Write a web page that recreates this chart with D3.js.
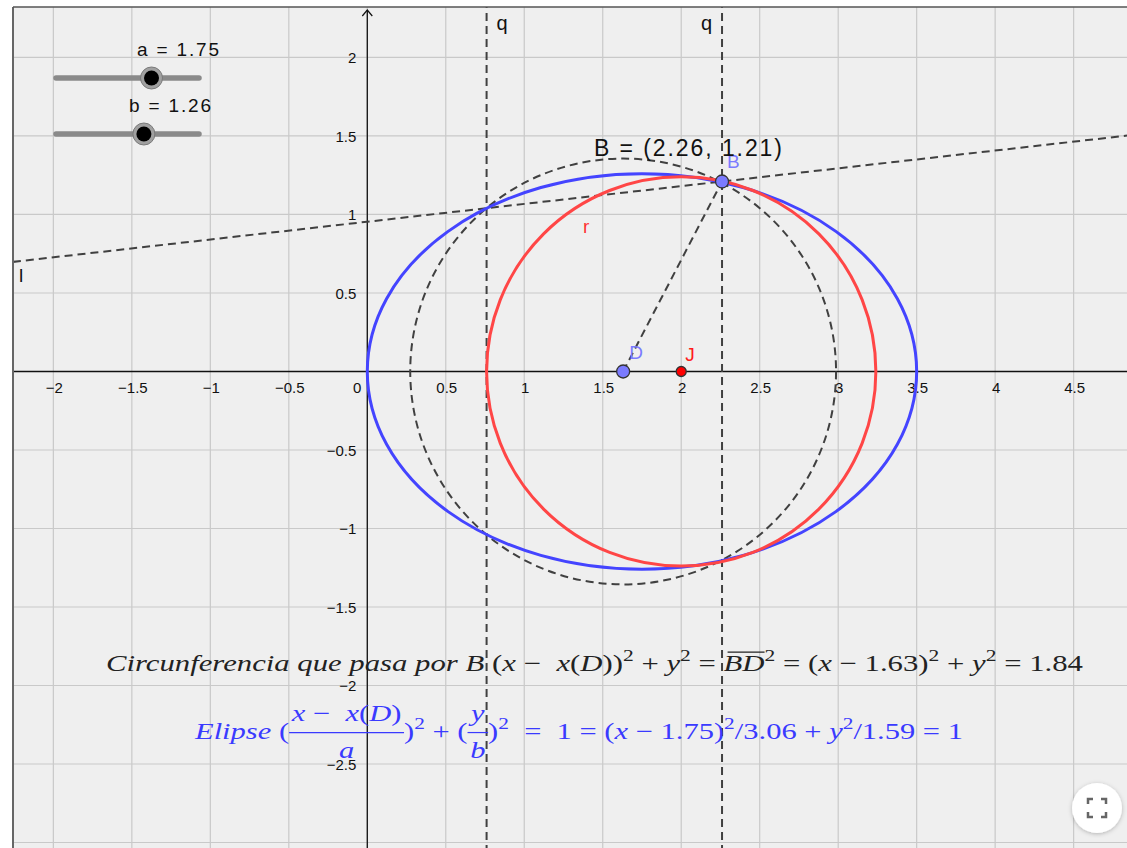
<!DOCTYPE html>
<html>
<head>
<meta charset="utf-8">
<script src="https://cdn.jsdelivr.net/npm/d3@7"></script>
<style>
  body { margin: 0; background: #fff; }
  svg { display: block; }
  text { font-family: "Liberation Sans", Arial, sans-serif; }
</style>
</head>
<body>
<div id="chart-area"></div>
<script>
// ---- data ----
var xTicks = [-2, -1.5, -1, -0.5, 0.5, 1, 1.5, 2, 2.5, 3, 3.5, 4, 4.5];
var yTicks = [2, 1.5, 1, 0.5, -0.5, -1, -1.5, -2, -2.5];
var xGrid = [-2, -1.5, -1, -0.5, 0, 0.5, 1, 1.5, 2, 2.5, 3, 3.5, 4, 4.5];
var yGrid = [2, 1.5, 1, 0.5, 0, -0.5, -1, -1.5, -2, -2.5, -3];

var sliderNames = ['a', 'b'];
var sliderValues = [1.75, 1.26];
var sliderMin = [0, 0];
var sliderMax = [2.62, 2.05];

var pointNames = ['B', 'D', 'J'];
var pointX = [2.26, 1.63, 2];
var pointY = [1.21, 0, 0];

var redRadius = 1.24;      // circle r, centre J
var circleR2 = 1.84;       // dashed circle through B, centre D
var qX = [0.76, 2.26];     // vertical lines q
var lPoints = [[0.76, 1.04], [2.26, 1.21]]; // line l

var def = { width: 1127, height: 848, left: 13, top: 7 };
var fmt = d3.format('.2f');

var svg = d3.select('#chart-area').append('svg')
    .attr('width', def.width)
    .attr('height', def.height);

var x = d3.scaleLinear().domain([-2.34, 4.84]).range([0, def.width]);
var y = d3.scaleLinear().domain([2.366, -3.035]).range([0, def.height]);

var defs = svg.append('defs');
defs.append('clipPath').attr('id', 'plot')
    .append('rect')
    .attr('x', def.left).attr('y', def.top)
    .attr('width', def.width - def.left).attr('height', def.height - def.top);

svg.append('rect')
    .attr('x', def.left).attr('y', def.top)
    .attr('width', def.width - def.left).attr('height', def.height - def.top)
    .attr('fill', '#efefef');

var g = svg.append('g').attr('clip-path', 'url(#plot)');

// grid
g.selectAll('.gx').data(xGrid).enter().append('line')
    .attr('x1', d => x(d)).attr('x2', d => x(d))
    .attr('y1', 0).attr('y2', def.height)
    .attr('stroke', '#c9c9c9').attr('stroke-width', 1.2);
g.selectAll('.gy').data(yGrid).enter().append('line')
    .attr('y1', d => y(d)).attr('y2', d => y(d))
    .attr('x1', 0).attr('x2', def.width)
    .attr('stroke', '#c9c9c9').attr('stroke-width', 1.2);

// axes
g.append('line').attr('x1', 0).attr('x2', def.width)
    .attr('y1', y(0)).attr('y2', y(0)).attr('stroke', '#111').attr('stroke-width', 1.3);
g.append('line').attr('x1', x(0)).attr('x2', x(0))
    .attr('y1', def.top + 3).attr('y2', def.height).attr('stroke', '#111').attr('stroke-width', 1.3);
g.append('path')
    .attr('d', 'M' + (x(0) - 5) + ',' + (def.top + 9) + 'L' + x(0) + ',' + (def.top + 3) + 'L' + (x(0) + 5) + ',' + (def.top + 9))
    .attr('fill', 'none').attr('stroke', '#111').attr('stroke-width', 1.2);

var minus = d => String(d).replace('-', '\u2212');
g.selectAll('.xl').data(xTicks).enter().append('text')
    .attr('x', d => x(d) + 1).attr('y', y(0) + 22)
    .attr('text-anchor', 'middle').attr('font-size', 15).attr('fill', '#111')
    .text(minus);
g.append('text').attr('x', x(0) - 10).attr('y', y(0) + 22)
    .attr('text-anchor', 'middle').attr('font-size', 15).attr('fill', '#111').text('0');
g.selectAll('.yl').data(yTicks).enter().append('text')
    .attr('x', x(0) - 11).attr('y', d => y(d) + 6)
    .attr('text-anchor', 'end').attr('font-size', 15).attr('fill', '#111')
    .text(minus);

var dash = { stroke: '#404040', w: 2, arr: '8,5' };

// vertical lines q
g.selectAll('.q').data(qX).enter().append('line')
    .attr('x1', d => x(d)).attr('x2', d => x(d))
    .attr('y1', 0).attr('y2', def.height)
    .attr('stroke', dash.stroke).attr('stroke-width', dash.w).attr('stroke-dasharray', dash.arr);

// line l
var slope = (lPoints[1][1] - lPoints[0][1]) / (lPoints[1][0] - lPoints[0][0]);
var lAt = xv => lPoints[0][1] + slope * (xv - lPoints[0][0]);
var xd = x.domain();
g.append('line')
    .attr('x1', x(xd[0])).attr('y1', y(lAt(xd[0])))
    .attr('x2', x(xd[1])).attr('y2', y(lAt(xd[1])))
    .attr('stroke', dash.stroke).attr('stroke-width', dash.w).attr('stroke-dasharray', dash.arr);

// dashed circle centre D through B
var rDash = Math.sqrt(circleR2);
g.append('circle')
    .attr('cx', x(pointX[1])).attr('cy', y(0))
    .attr('r', x(pointX[1] + rDash) - x(pointX[1]))
    .attr('fill', 'none').attr('stroke', dash.stroke).attr('stroke-width', dash.w).attr('stroke-dasharray', dash.arr);

// segment DB
g.append('line')
    .attr('x1', x(pointX[1])).attr('y1', y(pointY[1]))
    .attr('x2', x(pointX[0])).attr('y2', y(pointY[0]))
    .attr('stroke', dash.stroke).attr('stroke-width', dash.w).attr('stroke-dasharray', dash.arr);

// ellipse (centre a, 0), semi axes a, b
var aV = sliderValues[0], bV = sliderValues[1];
g.append('ellipse')
    .attr('cx', x(aV)).attr('cy', y(0))
    .attr('rx', x(aV + aV) - x(aV)).attr('ry', y(0) - y(bV))
    .attr('fill', 'none').attr('stroke', '#4444ff').attr('stroke-width', 3);

// red circle r centre J
g.append('circle')
    .attr('cx', x(pointX[2])).attr('cy', y(pointY[2]))
    .attr('r', x(pointX[2] + redRadius) - x(pointX[2]))
    .attr('fill', 'none').attr('stroke', '#ff4646').attr('stroke-width', 3);

// points
var pFill = ['#7b7bff', '#7b7bff', '#ff0000'];
var pR = [6.5, 6.5, 5];
g.selectAll('.pt').data(pointNames).enter().append('circle')
    .attr('cx', (d, i) => x(pointX[i])).attr('cy', (d, i) => y(pointY[i]))
    .attr('r', (d, i) => pR[i])
    .attr('fill', (d, i) => pFill[i]).attr('stroke', '#333').attr('stroke-width', 1.3);

// labels
var lab = (t, px, py, col, fs, anchor) => g.append('text')
    .attr('x', px).attr('y', py).attr('fill', col).attr('font-size', fs)
    .attr('text-anchor', anchor || 'start').text(t);
lab('B', x(pointX[0]) + 5, y(pointY[0]) - 14, '#7b7bff', 19);
lab('D', x(pointX[1]) + 6, y(pointY[1]) - 12, '#7b7bff', 19);
lab('J', x(pointX[2]) + 4, y(pointY[2]) - 10, '#ff1a1a', 19);
lab('r', x(1.375), 233, '#ff3333', 19);
lab('q', x(qX[0]) + 10, 30, '#111', 20);
lab('q', x(qX[1]) - 10, 30, '#111', 20, 'end');
lab('l', 19, 282, '#111', 19);

g.append('text')
    .attr('x', 594).attr('y', 156).attr('font-size', 23).attr('fill', '#111')
    .attr('textLength', 188).attr('lengthAdjust', 'spacing')
    .text('B = (' + fmt(pointX[0]) + ', ' + fmt(pointY[0]) + ')');

// sliders
var sl = svg.append('g');
sliderNames.forEach((n, i) => {
    var sy = 78 + i * 56;
    var sx = d3.scaleLinear().domain([sliderMin[i], sliderMax[i]]).range([56, 199]);
    sl.append('line').attr('x1', 56).attr('x2', 199).attr('y1', sy).attr('y2', sy)
        .attr('stroke', '#8a8a8a').attr('stroke-width', 5.5).attr('stroke-linecap', 'round');
    sl.append('circle').attr('cx', sx(sliderValues[i])).attr('cy', sy).attr('r', 11)
        .attr('fill', '#a0a0a0').attr('stroke', '#7a7a7a').attr('stroke-width', 1);
    sl.append('circle').attr('cx', sx(sliderValues[i])).attr('cy', sy).attr('r', 7.5)
        .attr('fill', '#000');
    sl.append('text').attr('x', 137 - i * 8).attr('y', sy - 22)
        .attr('font-size', 19).attr('fill', '#111')
        .attr('textLength', 82).attr('lengthAdjust', 'spacing')
        .text(n + ' = ' + fmt(sliderValues[i]));
});

// formulas
var nb = s => s.replace(/ /g, '\u00a0');
function row(parent, segs, fs) {
    var cx = 0;
    segs.forEach(s => {
        if (s.frac) {
            var gn = parent.append('g'), gd = parent.append('g');
            var wn = row(gn, s.frac[0], fs), wd = row(gd, s.frac[1], fs);
            var w = Math.max(wn, wd) + 4;
            gn.attr('transform', 'translate(' + (cx + (w - wn) / 2) + ',' + (-fs * 0.8) + ')');
            gd.attr('transform', 'translate(' + (cx + (w - wd) / 2) + ',' + (fs * 0.82) + ')');
            parent.append('line').attr('x1', cx).attr('x2', cx + w)
                .attr('y1', -fs * 0.28).attr('y2', -fs * 0.28)
                .attr('stroke', 'currentColor').attr('stroke-width', 1.2);
            cx += w;
            return;
        }
        var t = parent.append('text')
            .attr('x', cx).attr('y', s.sup ? -fs * 0.45 : 0)
            .attr('font-size', s.sup ? fs * 0.7 : fs)
            .attr('font-style', s.it ? 'italic' : 'normal')
            .attr('fill', 'currentColor')
            .style('font-family', '"Liberation Serif", "DejaVu Serif", serif')
            .text(nb(s.t));
        var w = t.node().getComputedTextLength();
        if (s.over) {
            parent.append('line').attr('x1', cx + 3).attr('x2', cx + w)
                .attr('y1', -fs * 0.82).attr('y2', -fs * 0.82)
                .attr('stroke', 'currentColor').attr('stroke-width', 1.2);
        }
        cx += w;
    });
    return cx;
}
function formula(segs, x0, x1, base, col, fs) {
    var fg = svg.append('g').style('color', col);
    var w = row(fg, segs, fs);
    fg.attr('transform', 'translate(' + x0 + ',' + base + ') scale(' + ((x1 - x0) / w) + ',1)');
}
var it = t => ({ t: t, it: true }), rm = t => ({ t: t }), sp = t => ({ t: t, sup: true });

formula([
    it('Circunferencia que pasa por B'), rm(' ('), it('x'), rm(' \u2212  '), it('x'), rm('('), it('D'), rm('))'), sp('2'),
    rm(' + '), it('y'), sp('2'), rm(' = '), { t: 'BD', it: true, over: true }, sp('2'),
    rm(' = ('), it('x'), rm(' \u2212 ' + fmt(pointX[1]) + ')'), sp('2'), rm(' + '), it('y'), sp('2'),
    rm(' = ' + fmt(circleR2))
], 106, 1083, 671, '#222', 23);

formula([
    it('Elipse'), rm(' ('),
    { frac: [[it('x'), rm(' \u2212  '), it('x'), rm('('), it('D'), rm(')')], [it('a')]] },
    rm(')'), sp('2'), rm(' + ('),
    { frac: [[it('y')], [it('b')]] },
    rm(')'), sp('2'), rm('  =  1 = ('), it('x'), rm(' \u2212 ' + fmt(aV) + ')'), sp('2'),
    rm('/' + fmt(aV * aV) + ' + '), it('y'), sp('2'), rm('/' + fmt(bV * bV) + ' = 1')
], 195, 963, 739, '#3a3aff', 23);

// frame
svg.append('line').attr('x1', def.left).attr('x2', def.left).attr('y1', def.top).attr('y2', def.height)
    .attr('stroke', '#666').attr('stroke-width', 2);
svg.append('line').attr('x1', def.left).attr('x2', def.width).attr('y1', def.top).attr('y2', def.top)
    .attr('stroke', '#555').attr('stroke-width', 1.5);

// fullscreen button
var fb = svg.append('g').attr('transform', 'translate(1097,808)');
defs.append('filter').attr('id', 'sh').append('feDropShadow')
    .attr('dx', 0).attr('dy', 1).attr('stdDeviation', 2).attr('flood-opacity', 0.25);
fb.append('circle').attr('r', 25).attr('fill', '#fff').attr('filter', 'url(#sh)');
[[-1, -1], [1, -1], [-1, 1], [1, 1]].forEach(c => {
    fb.append('path')
        .attr('d', 'M' + (c[0] * 9) + ',' + (c[1] * 4) + 'V' + (c[1] * 9) + 'H' + (c[0] * 4))
        .attr('fill', 'none').attr('stroke', '#666').attr('stroke-width', 2.5);
});
</script>
</body>
</html>
